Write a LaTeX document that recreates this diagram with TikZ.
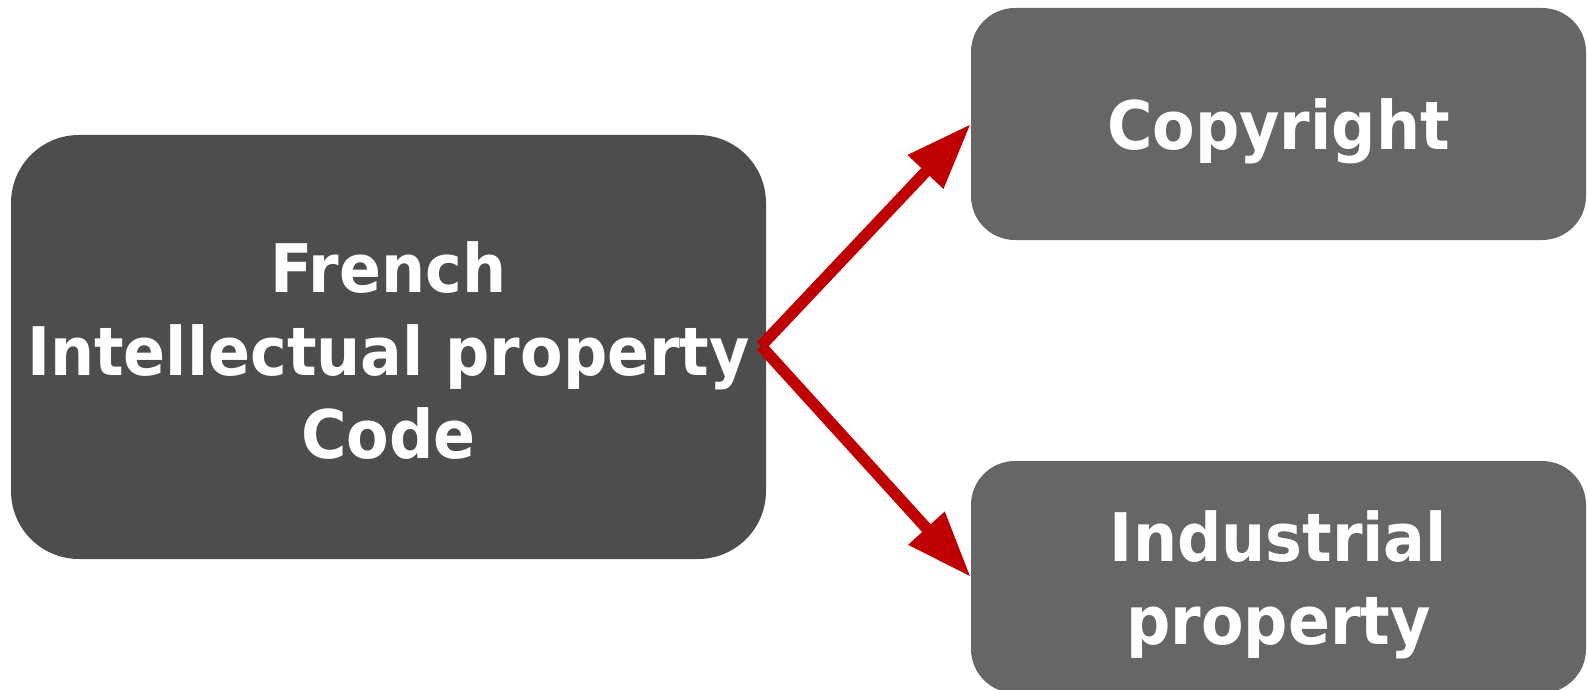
\documentclass[tikz,border=0pt]{standalone}
\usepackage{fontspec}
\usetikzlibrary{arrows.meta}
\newfontfamily\boxfont{DejaVu Sans}[FakeStretch=0.925]
\definecolor{darkbox}{HTML}{4D4D4D}
\definecolor{lightbox}{HTML}{666666}
\definecolor{arrowred}{HTML}{C00000}
\tikzset{
  boxbase/.style={rectangle, inner sep=0pt},
  boxtext/.style={inner sep=0pt, align=center, text=white,
    font=\boxfont\bfseries\fontsize{67}{83}\selectfont},
  mainbox/.style={boxbase, fill=darkbox, rounded corners=68pt},
  sidebox/.style={boxbase, fill=lightbox, rounded corners=44pt,
    minimum width=615pt, minimum height=232pt},
  redarrow/.style={draw=arrowred, line width=11.5pt,
    -{Triangle[length=66pt,width=46pt,fill=arrowred]}}
}
\begin{document}
\begin{tikzpicture}[x=1pt,y=-1pt]
\useasboundingbox (0,0) rectangle (1588,690);
\fill[white] (0,0) rectangle (1588,690);
\begin{scope}
\clip (0,0) rectangle (1588,690);
\node[mainbox, minimum width=755pt, minimum height=424pt] (fipc) at (388.5,347) {};
\node[boxtext, yshift=-4pt] (fipctext) at (fipc.center) {French\\Intellectual property\\Code};
\node[sidebox] (copy) at (1278.5,124) {};
\node[boxtext, yshift=-7pt] (copytext) at (copy.center) {Copyright};
\node[sidebox] (ind) at (1278.5,577) {};
\node[boxtext, yshift=-8pt] (indtext) at (ind.center) {Industrial\\property};
\coordinate (start) at (761,346);
\draw[redarrow] (start) -- (copy.west);
\draw[redarrow] (start) -- (ind.west);
\end{scope}
\end{tikzpicture}
\end{document}
